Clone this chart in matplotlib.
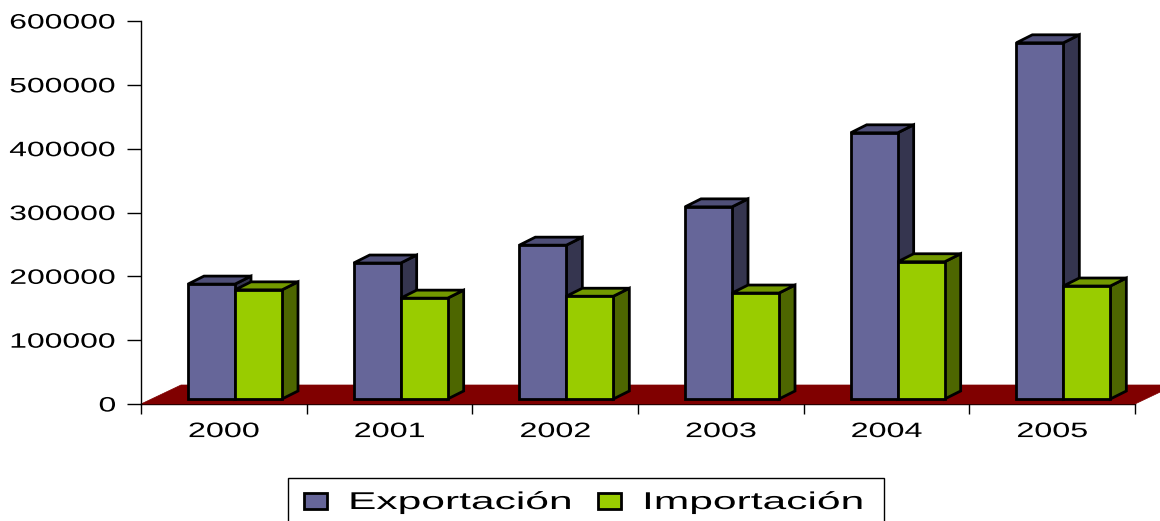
import matplotlib
matplotlib.use("Agg")
from matplotlib import pyplot as plt
from matplotlib.patches import Polygon, Rectangle
from matplotlib.patheffects import AbstractPathEffect
from matplotlib.transforms import Affine2D

# data
years = ['2000', '2001', '2002', '2003', '2004', '2005']
exportacion = [180000, 213000, 241000, 301000, 417000, 558000]
importacion = [171000, 158000, 161000, 166000, 215000, 177000]
y_ticks = [0, 100000, 200000, 300000, 400000, 500000, 600000]
series_names = ['Exportación', 'Importación']

plt.rcParams['font.family'] = ['Liberation Sans', 'DejaVu Sans']


# the reference text is stretched sideways, this widens the glyphs
class Stretch(AbstractPathEffect):
    def __init__(self, sx, anchor=0.0):
        super().__init__()
        self.sx = sx
        self.anchor = anchor

    def draw_path(self, renderer, gc, tpath, affine, rgbFace=None):
        v = tpath.vertices
        if len(v):
            x0, x1 = v[:, 0].min(), v[:, 0].max()
        else:
            x0 = x1 = 0
        a = x0 + (x1 - x0) * self.anchor
        t = Affine2D().translate(-a, 0).scale(self.sx, 1).translate(a, 0) + affine
        renderer.draw_path(gc, tpath, t, rgbFace)


W, H = 1160, 521
fig = plt.figure(figsize=(W / 100, H / 100), dpi=100)
ax = fig.add_axes([141 / W, 117 / H, 994 / W, 383 / H])
ax.set_xlim(0, 6)
ax.set_ylim(0, 600000)

# pixel -> data helpers for the fake 3d offsets
px_x = 6 / 994
px_y = 600000 / 383

# floor
fdx, fdy = 40 * px_x, 19 * px_y
floor = Polygon([(0, 0), (6, 0), (6 + fdx, fdy), (fdx, fdy)], closed=True,
                facecolor='#800000', edgecolor='#800000', lw=0.5,
                clip_on=False, zorder=1)
ax.add_patch(floor)

base = 5 * px_y
ddx, ddy = 16 * px_x, 8 * px_y
bar_w = 47 * px_x
first = 47 * px_x

colors = {
    'exp': ('#666699', '#35354f', '#4f4f78'),
    'imp': ('#99cc00', '#4d6600', '#739900'),
}


def draw_bar(x0, h, cols, z):
    front, side, top = cols
    y0, y1 = base, base + h
    x1 = x0 + bar_w
    kw = dict(edgecolor='black', lw=2.0, joinstyle='miter', clip_on=False, zorder=z)
    ax.add_patch(Polygon([(x1, y0), (x1 + ddx, y0 + ddy), (x1 + ddx, y1 + ddy), (x1, y1)],
                         facecolor=side, **kw))
    ax.add_patch(Polygon([(x0, y1), (x1, y1), (x1 + ddx, y1 + ddy), (x0 + ddx, y1 + ddy)],
                         facecolor=top, **kw))
    ax.add_patch(Polygon([(x0, y0), (x1, y0), (x1, y1), (x0, y1)],
                         facecolor=front, **kw))


z = 2
for i in range(len(years)):
    draw_bar(i + first, exportacion[i], colors['exp'], z)
    z += 1
    draw_bar(i + first + bar_w, importacion[i], colors['imp'], z)
    z += 1

# axes styling
for s in ['top', 'right']:
    ax.spines[s].set_visible(False)
ax.spines['left'].set_linewidth(1.0)
ax.spines['bottom'].set_linewidth(1.0)
ax.spines['bottom'].set_zorder(0.5)

ax.set_yticks(y_ticks)
ax.set_yticklabels([str(v) for v in y_ticks], fontsize=15)
ax.tick_params(axis='y', length=10, width=1, pad=8, direction='out')
for tk in ax.yaxis.get_major_ticks():
    tk.label1.set_path_effects([Stretch(1.53, anchor=1.0)])

ax.set_xticks(range(7))
ax.set_xticklabels([])
ax.tick_params(axis='x', which='major', length=7, width=1, direction='out')
ax.set_xticks([i + 0.5 for i in range(6)], minor=True)
ax.set_xticklabels(years, minor=True, fontsize=15)
ax.tick_params(axis='x', which='minor', length=0, pad=13)
for tk in ax.xaxis.get_minor_ticks():
    tk.label1.set_path_effects([Stretch(1.55, anchor=0.5)])

# legend box, drawn by hand so the stretched labels fit
fig.patches.append(Rectangle((288 / W, -0.05), (884 - 288) / W, 0.05 + (H - 478) / H,
                             transform=fig.transFigure, facecolor='white',
                             edgecolor='black', lw=1.0, figure=fig))
leg_sq = [304, 598]
leg_tx = [348, 642]
for k, key in enumerate(['exp', 'imp']):
    fig.patches.append(Rectangle((leg_sq[k] / W, (H - 509) / H), 23 / W, 16 / H,
                                 transform=fig.transFigure, facecolor=colors[key][0],
                                 edgecolor='black', lw=2.0, figure=fig))
    t = fig.text(leg_tx[k] / W, (H - 509) / H, series_names[k], fontsize=17.5,
                 ha='left', va='baseline')
    t.set_path_effects([Stretch(1.75, anchor=0.0)])

fig.savefig('out.png', dpi=100)
